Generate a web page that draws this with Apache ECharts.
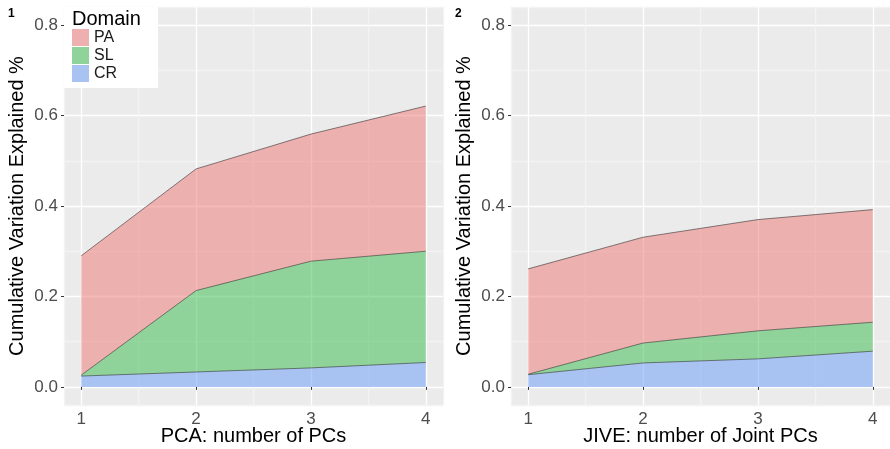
<!DOCTYPE html>
<html>
<head>
<meta charset="utf-8">
<script src="https://cdn.jsdelivr.net/npm/echarts@6/dist/echarts.min.js"></script>
<style>
  html, body { margin: 0; padding: 0; background: #fff; }
  #chart { width: 890px; height: 449px; }
</style>
</head>
<body>
<div id="chart"></div>
<script>
// number of components on the x axis
var pcs = [1, 2, 3, 4];

// PCA panel: stacked contributions per domain
var pcaCR = [0.024, 0.033, 0.042, 0.054];
var pcaSL = [0.002, 0.180, 0.236, 0.246];
var pcaPA = [0.264, 0.269, 0.281, 0.321];

// JIVE panel
var jiveCR = [0.027, 0.053, 0.062, 0.079];
var jiveSL = [0.001, 0.044, 0.062, 0.064];
var jivePA = [0.233, 0.234, 0.246, 0.249];

var domains = ['PA', 'SL', 'CR'];
var xTicks = [1, 2, 3, 4];
var yTicks = [0, 0.2, 0.4, 0.6, 0.8];

var fills = { PA: 'rgba(237,117,113,0.5)', SL: 'rgba(51,187,73,0.5)', CR: 'rgba(101,153,249,0.5)' };
var solid = { PA: '#EEB0AE', SL: '#8FD39A', CR: '#A8C2F2' };

var font = 'Liberation Sans, Arial, sans-serif';
var gridColors = ['#F3F3F3', '#FFFFFF'];

// value first so the stack sums the y values, x read through encode
function pairs(vals) {
    return pcs.map(function (x, i) { return [vals[i], x]; });
}

function xAxes(gridIndex, title) {
    return [{
        type: 'value', gridIndex: gridIndex, position: 'bottom', min: 0.85, max: 4.15, splitNumber: 6,
        axisLine: { show: false }, axisTick: { show: false },
        axisLabel: {
            color: '#4D4D4D', fontSize: 17, fontFamily: font, margin: 6,
            formatter: function (v) { return xTicks.indexOf(v) >= 0 ? String(v) : ''; }
        },
        splitLine: { show: true, lineStyle: { color: gridColors, width: 1.3 } },
        name: title, nameLocation: 'middle', nameGap: 21, nameMoveOverlap: false,
        nameTextStyle: { color: '#000', fontSize: 20, fontFamily: font }
    }, {
        type: 'value', gridIndex: gridIndex, position: 'bottom', offset: 0, min: 0.85, max: 4.15, splitNumber: 3,
        axisLine: { show: false }, axisLabel: { show: false }, splitLine: { show: false },
        axisTick: { show: true, length: 3, customValues: xTicks, lineStyle: { color: '#333', width: 1 } }
    }];
}

function yAxes(gridIndex) {
    return [{
        type: 'value', gridIndex: gridIndex, position: 'left', min: -0.04, max: 0.84, splitNumber: 8,
        axisLine: { show: false }, axisTick: { show: false },
        axisLabel: {
            color: '#4D4D4D', fontSize: 17, fontFamily: font, margin: 6,
            formatter: function (v) {
                var hit = yTicks.some(function (t) { return Math.abs(t - v) < 1e-9; });
                return hit ? v.toFixed(1) : '';
            }
        },
        splitLine: { show: true, lineStyle: { color: gridColors, width: 1.3 } },
        name: 'Cumulative Variation Explained %', nameLocation: 'middle', nameGap: 37, nameMoveOverlap: false,
        nameTextStyle: { color: '#000', fontSize: 20, fontFamily: font }
    }, {
        type: 'value', gridIndex: gridIndex, position: 'left', offset: 0, min: -0.04, max: 0.84, splitNumber: 4,
        axisLine: { show: false }, axisLabel: { show: false }, splitLine: { show: false },
        axisTick: { show: true, length: 3, customValues: yTicks, lineStyle: { color: '#333', width: 1 } }
    }];
}

function areaSeries(name, vals, stack, xi, yi) {
    return {
        name: name, type: 'line', stack: stack, data: pairs(vals),
        encode: { x: 1, y: 0 },
        xAxisIndex: xi, yAxisIndex: yi,
        symbol: 'none', smooth: false, silent: true,
        lineStyle: { color: '#333', width: 0.6 },
        itemStyle: { color: solid[name] },
        areaStyle: { color: fills[name], opacity: 1 }
    };
}

var chart = echarts.init(document.getElementById('chart'));

var option = {
    animation: false,
    backgroundColor: '#fff',
    grid: [
        { left: 64, top: 7, width: 379, height: 398, outerBoundsMode: 'none', containLabel: false,
          show: true, backgroundColor: '#EBEBEB', borderWidth: 0 },
        { left: 511, top: 7, width: 379, height: 398, outerBoundsMode: 'none', containLabel: false,
          show: true, backgroundColor: '#EBEBEB', borderWidth: 0 }
    ],
    xAxis: xAxes(0, 'PCA: number of PCs').concat(xAxes(1, 'JIVE: number of Joint PCs')),
    yAxis: yAxes(0).concat(yAxes(1)),
    legend: {
        left: 64, top: 7, orient: 'vertical',
        backgroundColor: '#fff', padding: [22, 41, 6, 8],
        icon: 'rect', itemWidth: 17, itemHeight: 17, itemGap: 1,
        textStyle: { fontSize: 16, color: '#1A1A1A', fontFamily: font },
        data: domains.map(function (d) {
            return { name: d, itemStyle: { color: solid[d], borderWidth: 0 } };
        }),
        selectedMode: false
    },
    graphic: [
        { type: 'text', left: 72, top: 9, z: 100, style: { text: 'Domain', fontSize: 20, fontFamily: font, fill: '#000' } },
        { type: 'text', left: 8, top: 8, z: 100, style: { text: '1', fontSize: 12, fontWeight: 'bold', fontFamily: font, fill: '#000' } },
        { type: 'text', left: 455, top: 8, z: 100, style: { text: '2', fontSize: 12, fontWeight: 'bold', fontFamily: font, fill: '#000' } }
    ],
    series: [
        areaSeries('CR', pcaCR, 'pca', 0, 0),
        areaSeries('SL', pcaSL, 'pca', 0, 0),
        areaSeries('PA', pcaPA, 'pca', 0, 0),
        areaSeries('CR', jiveCR, 'jive', 2, 2),
        areaSeries('SL', jiveSL, 'jive', 2, 2),
        areaSeries('PA', jivePA, 'jive', 2, 2)
    ]
};

chart.setOption(option);
</script>
</body>
</html>
